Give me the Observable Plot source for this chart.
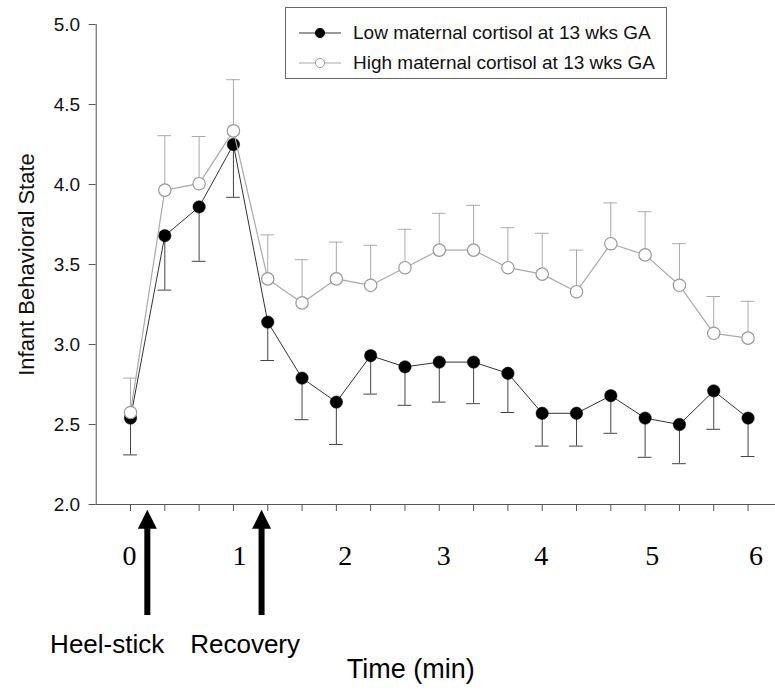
<!DOCTYPE html>
<html>
<head>
<meta charset="utf-8">
<script src="https://cdn.jsdelivr.net/npm/d3@7"></script>
<script src="https://cdn.jsdelivr.net/npm/@observablehq/plot@0.6"></script>
<style>
  html, body { margin: 0; padding: 0; background: #fff; }
  #wrap { position: relative; width: 775px; height: 690px; }
  #legend { position: absolute; left: 285px; top: 7px; width: 382px; height: 72px;
            border: 1px solid #666; background: #fff; box-sizing: border-box;
            font-family: "Liberation Sans", Arial, sans-serif; font-size: 19px; color: #111; }
  .row { position: absolute; left: 13px; height: 22px; display: flex; align-items: center; white-space: nowrap; }
  .row svg { margin-right: 12px; }
</style>
</head>
<body>
<div id="wrap">
  <div id="chart"></div>
  <div id="legend"></div>
</div>
<script>
// ---- data ----
const seriesNames = ["Low maternal cortisol at 13 wks GA", "High maternal cortisol at 13 wks GA"];
const lowMean   = [2.54, 3.68, 3.86, 4.25, 3.14, 2.79, 2.64, 2.93, 2.86, 2.89, 2.89, 2.82, 2.57, 2.57, 2.68, 2.54, 2.50, 2.71, 2.54];
const lowLower  = [2.31, 3.34, 3.52, 3.92, 2.90, 2.53, 2.375, 2.69, 2.62, 2.64, 2.63, 2.575, 2.365, 2.365, 2.445, 2.295, 2.255, 2.47, 2.30];
const highMean  = [2.575, 3.965, 4.005, 4.335, 3.41, 3.26, 3.41, 3.37, 3.48, 3.59, 3.59, 3.48, 3.44, 3.33, 3.63, 3.56, 3.37, 3.07, 3.04];
const highUpper = [2.79, 4.305, 4.30, 4.655, 3.685, 3.53, 3.64, 3.62, 3.72, 3.82, 3.87, 3.73, 3.695, 3.59, 3.885, 3.83, 3.63, 3.30, 3.27];
const yTicks = [2.0, 2.5, 3.0, 3.5, 4.0, 4.5, 5.0];
const timeLabels = ["0", "1", "2", "3", "4", "5", "6"];
const timeLabelAt = [-0.03, 3.18, 6.26, 9.13, 11.97, 15.21, 18.23];   // in sample-index units
const eventLabels = ["Heel-stick", "Recovery"];
const eventAt = [0.49, 3.82];          // arrow positions (sample-index units)
const eventLabelAt = [-0.68, 3.34];    // label centres (sample-index units)
const yTitle = "Infant Behavioral State";
const xTitle = "Time (min)";

// ---- tables ----
const idx = d3.range(lowMean.length);
const low = idx.map(i => ({i, mean: lowMean[i], err: lowLower[i]}));
const high = idx.map(i => ({i, mean: highMean[i], err: highUpper[i]}));
const timeData = timeLabels.map((label, k) => ({label, at: timeLabelAt[k]}));
const events = eventLabels.map((label, k) => ({label, at: eventAt[k], labelAt: eventLabelAt[k]}));

const capHalf = 0.2;
const sans = "Liberation Sans, Arial, sans-serif";
const serif = "Liberation Serif, Times New Roman, serif";
const arrowHead = {
  draw(context, size) {
    const h = Math.sqrt(size);
    context.moveTo(0, -h / 2);
    context.lineTo(h / 2, h / 2);
    context.lineTo(-h / 2, h / 2);
    context.closePath();
  }
};

const chart = Plot.plot({
  width: 775, height: 690,
  marginLeft: 95.7, marginRight: 0, marginTop: 24, marginBottom: 186,
  x: {domain: [-1, 18.8], axis: null},
  y: {domain: [2, 5], axis: null},
  style: {fontFamily: sans, background: "#fff", color: "#111"},
  marks: [
    Plot.axisY({ticks: yTicks, tickSize: 7, tickPadding: 9, tickFormat: d3.format(".1f"),
                fontSize: 19, stroke: "#555", fill: "#111", label: null}),
    Plot.axisX({ticks: idx, tickSize: 7, tickFormat: () => "", stroke: "#555", label: null}),
    Plot.ruleX([-1], {y1: 2, y2: 5, stroke: "#555"}),
    Plot.ruleY([2], {stroke: "#555"}),
    // error bars
    Plot.ruleX(low, {x: "i", y1: "mean", y2: "err", stroke: "#444"}),
    Plot.ruleY(low, {y: "err", x1: d => d.i - capHalf, x2: d => d.i + capHalf, stroke: "#444"}),
    Plot.ruleX(high, {x: "i", y1: "mean", y2: "err", stroke: "#aaa"}),
    Plot.ruleY(high, {y: "err", x1: d => d.i - capHalf, x2: d => d.i + capHalf, stroke: "#aaa"}),
    // series
    Plot.line(low, {x: "i", y: "mean", stroke: "#333", strokeWidth: 1}),
    Plot.dot(low, {x: "i", y: "mean", r: 6.2, fill: "#000", stroke: "#000", strokeWidth: 0.5}),
    Plot.line(high, {x: "i", y: "mean", stroke: "#aaa", strokeWidth: 1.2}),
    Plot.dot(high, {x: "i", y: "mean", r: 6.2, fill: "#fff", stroke: "#999", strokeWidth: 1.2}),
    // time labels
    Plot.text(timeData, {x: "at", text: "label", frameAnchor: "bottom", dy: 60, lineAnchor: "bottom",
                         fontFamily: serif, fontSize: 28, fill: "#000"}),
    // event arrows
    Plot.ruleX(events, {x: "at", y1: 1.306, y2: 1.86, stroke: "#000", strokeWidth: 6}),
    Plot.dot(events, {x: "at", y: 1.9075, r: 10.7, symbol: arrowHead, fill: "#000", stroke: "none"}),
    Plot.text(events, {x: "labelAt", text: "label", frameAnchor: "bottom", dy: 148, lineAnchor: "bottom",
                       fontSize: 26, fill: "#000"}),
    // axis titles
    Plot.text([xTitle], {text: d => d, frameAnchor: "bottom", dx: -25, dy: 173, lineAnchor: "bottom",
                         textAnchor: "middle", fontSize: 27, fill: "#000"}),
    Plot.text([yTitle], {text: d => d, frameAnchor: "left", rotate: -90, dx: -62, lineAnchor: "bottom",
                         textAnchor: "middle", fontSize: 22, fill: "#111"})
  ]
});
document.getElementById("chart").appendChild(chart);

// ---- legend ----
const legend = document.getElementById("legend");
const legendStyles = [
  {line: "#333", fill: "#000", stroke: "#000"},
  {line: "#aaa", fill: "#fff", stroke: "#999"}
];
const rowTops = [14, 44];
seriesNames.forEach((name, k) => {
  const row = document.createElement("div");
  row.className = "row";
  row.style.top = rowTops[k] + "px";
  const s = legendStyles[k];
  row.innerHTML = `<svg width="42" height="12"><line x1="0" x2="42" y1="6" y2="6" stroke="${s.line}" stroke-width="1.2"/>` +
    `<circle cx="21" cy="6" r="4.6" fill="${s.fill}" stroke="${s.stroke}" stroke-width="1"/></svg><span>${name}</span>`;
  legend.appendChild(row);
});
</script>
</body>
</html>
